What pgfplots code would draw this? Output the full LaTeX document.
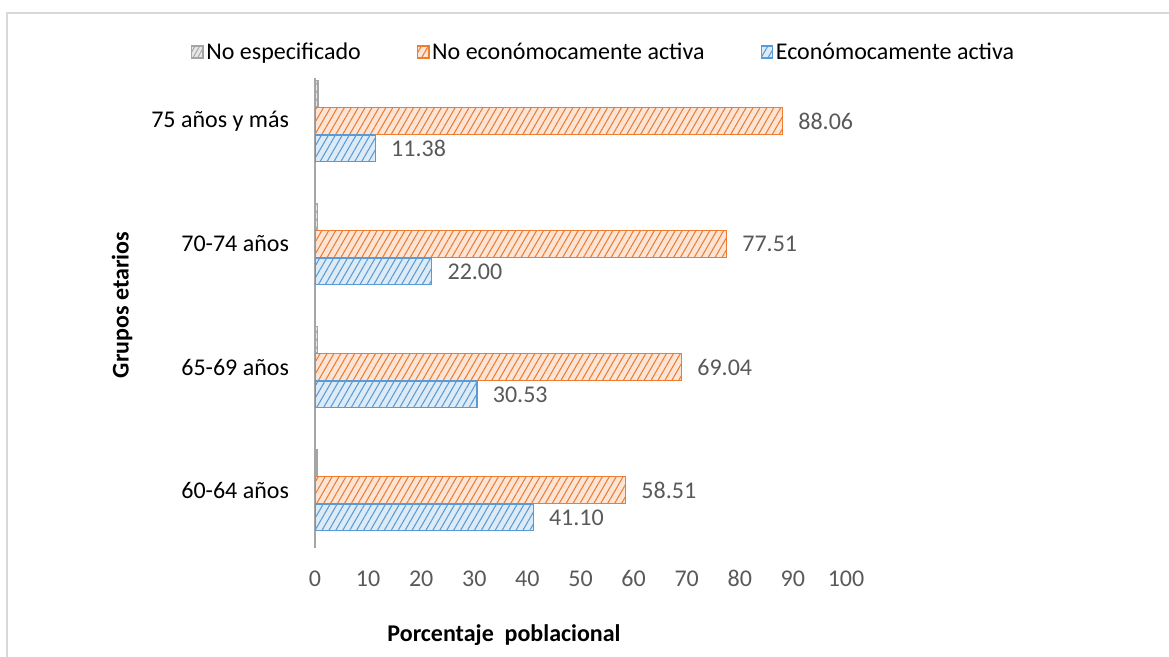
\documentclass[border=0pt]{standalone}
\usepackage{fontspec}
\setmainfont{Carlito}
\usepackage{pgfplots}
\pgfplotsset{compat=1.18}
\usetikzlibrary{patterns.meta}

\definecolor{framegray}{HTML}{D9D9D9}
\definecolor{axisgray}{HTML}{A6A6A6}
\definecolor{labelgray}{HTML}{595959}
\definecolor{orangeline}{HTML}{ED7D31}
\definecolor{orangefill}{HTML}{FCE4D6}
\definecolor{blueline}{HTML}{5B9BD5}
\definecolor{bluefill}{HTML}{DDEBF7}
\definecolor{greyline}{HTML}{A5A5A5}
\definecolor{greyfill}{HTML}{E7E7E7}

% Shares of each age group (%)
\pgfplotstableread{
pos  noesp  noact  activa
0    0.39   58.51  41.10
1    0.43   69.04  30.53
2    0.49   77.51  22.00
3    0.56   88.06  11.38
}\datos

\begin{document}
\begin{tikzpicture}[font=\fontsize{18}{21.6}\selectfont]
\useasboundingbox (0pt,0pt) rectangle (876.75pt,492pt);
\draw[framegray, line width=1.5pt] (5.6pt,-15pt) -- (5.6pt,482.6pt) -- (890pt,482.6pt);

\begin{axis}[
  at={(236.25pt,81pt)}, anchor=south west, scale only axis,
  width=398.25pt, height=352.5pt,
  xbar, bar width=20pt,
  xmin=0, xmax=100, ymin=-0.4715, ymax=3.35,
  axis lines*=left,
  x axis line style={draw=none},
  y axis line style={draw=axisgray, line width=2pt},
  major tick length=0pt,
  xtick={0,10,...,100},
  ytick={0,1,2,3},
  yticklabels={60-64 años,65-69 años,70-74 años,75 años y más},
  xticklabel style={text=labelgray, anchor=base, yshift=-29pt},
  yticklabel style={text=black, xshift=-16pt},
  /pgf/number format/assume math mode=true,
  xlabel={\bfseries Porcentaje~ poblacional},
  ylabel={\bfseries Grupos etarios},
  xlabel style={at={(axis description cs:0.356,-0.185)}, anchor=center},
  ylabel style={at={(axis description cs:-0.3635,0.517)}, anchor=center},
  legend style={at={(axis description cs:-0.234,1.055)}, anchor=west,
    draw=none, fill=none, inner sep=0pt, legend columns=3,
    /tikz/every even column/.append style={column sep=40pt}},
  legend cell align=left,
  every node near coord/.append style={text=labelgray, xshift=8pt,
    /pgf/number format/.cd, fixed, fixed zerofill, precision=2,
    assume math mode=true},
  legsq/.style={legend image code/.code={
    \draw[##1] (0pt,-4.5pt) rectangle (8.5pt,4.5pt);}},
]
\addplot[draw=greyline, fill=greyfill, line width=1pt, bar shift=20.5pt,
  postaction={pattern={Lines[angle=60,distance=3pt,line width=0.7pt]}, pattern color=greyline},
  legsq] table[x=noesp, y=pos] {\datos};
\addlegendentry{No especificado}
\addplot[draw=orangeline, fill=orangefill, line width=1pt, bar shift=0pt,
  postaction={pattern={Lines[angle=60,distance=4.5pt,line width=0.8pt]}, pattern color=orangeline},
  point meta=x, nodes near coords, legsq] table[x=noact, y=pos] {\datos};
\addlegendentry{No económocamente activa}
\addplot[draw=blueline, fill=bluefill, line width=1pt, bar shift=-20.5pt,
  postaction={pattern={Lines[angle=60,distance=4.5pt,line width=0.8pt]}, pattern color=blueline},
  point meta=x, nodes near coords, legsq] table[x=activa, y=pos] {\datos};
\addlegendentry{Económocamente activa}
\end{axis}
\end{tikzpicture}
\end{document}
